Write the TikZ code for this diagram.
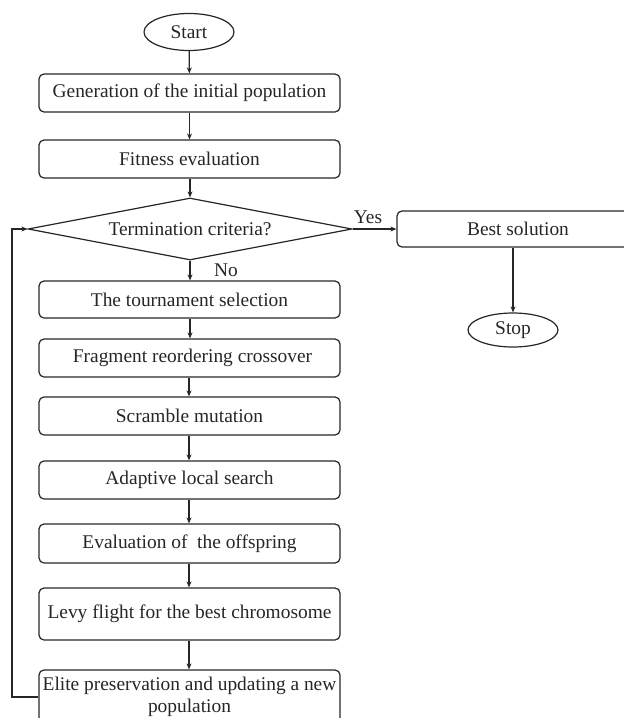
\documentclass[tikz,border=0pt]{standalone}
\usepackage{fontspec}
\setmainfont{Liberation Serif}
\usetikzlibrary{shapes.geometric,arrows.meta}
\begin{document}
\begin{tikzpicture}[x=1pt,y=-1pt,
  every node/.style={font=\fontsize{19.4}{22}\selectfont, text=black!85},
  procbox/.style={draw=black!85, line width=1.2pt, rounded corners=5pt, minimum width=301pt, inner sep=0pt, align=center},
  termbox/.style={draw=black!85, line width=1.2pt, shape=ellipse, minimum width=90pt, minimum height=37pt, inner sep=0pt},
  decbox/.style={draw=black!85, line width=1.2pt, shape=diamond, minimum width=324pt, minimum height=62pt, inner sep=0pt},
  flow/.style={draw=black!85, line width=1.2pt, -{Stealth[length=6pt,width=5pt]}}
]
\useasboundingbox (0,0) rectangle (624,718);
\node[termbox] (start) at (189,32) {Start};
\node[procbox, minimum height=38pt] (gen) at (189.5,93) {Generation of the initial population};
\node[procbox, minimum height=38pt] (fit) at (189.5,159) {Fitness evaluation};
\node[decbox] (term) at (190,229) {};
\node (termtxt) at (190,229) {Termination criteria?};
\node[procbox, minimum width=232pt, minimum height=36pt] (best) at (513,229) {\hspace{10pt}Best solution};
\node[termbox, minimum height=34pt] (stop) at (513,330) {Stop};
\node[procbox, minimum height=37pt] (tour) at (189.5,299.5) {The tournament selection};
\node[procbox, minimum height=38pt] (frag) at (189.5,358) {\hspace{6pt}Fragment reordering crossover};
\node[procbox, minimum height=38pt] (scr) at (189.5,416) {Scramble mutation};
\node[procbox, minimum height=38pt] (adapt) at (189.5,480) {Adaptive local search};
\node[procbox, minimum height=39pt] (eval) at (189.5,543.5) {Evaluation of\ \ the offspring};
\node[procbox, minimum height=52pt] (levy) at (189.5,614) {Levy flight for the best chromosome};
\node[procbox, minimum height=54pt] (elite) at (189.5,697) {Elite preservation and updating a new\\population};
\node (yes) at (368,217) {Yes};
\node (no) at (226,270) {No};
\coordinate (lb) at (12,697);
\coordinate (lt) at (12,229);
\draw[flow] (start) -- (gen);
\draw[flow] (gen) -- (fit);
\draw[flow] (fit.south -| term.north) -- (term.north);
\draw[flow] (term.south) -- (term.south |- tour.north);
\draw[flow] (term.east) -- (best.west);
\draw[flow] (best.south) -- (stop.north);
\draw[flow] (tour.south -| term.south) -- (term.south |- frag.north);
\draw[flow] (frag.south -| start.south) -- (start.south |- scr.north);
\draw[flow] (scr.south -| start.south) -- (start.south |- adapt.north);
\draw[flow] (adapt.south -| start.south) -- (start.south |- eval.north);
\draw[flow] (eval.south -| start.south) -- (start.south |- levy.north);
\draw[flow] (levy.south -| start.south) -- (start.south |- elite.north);
\draw[flow] (elite.west |- lb) -- (lb) -- (lt) -- (term.west);
\end{tikzpicture}
\end{document}
